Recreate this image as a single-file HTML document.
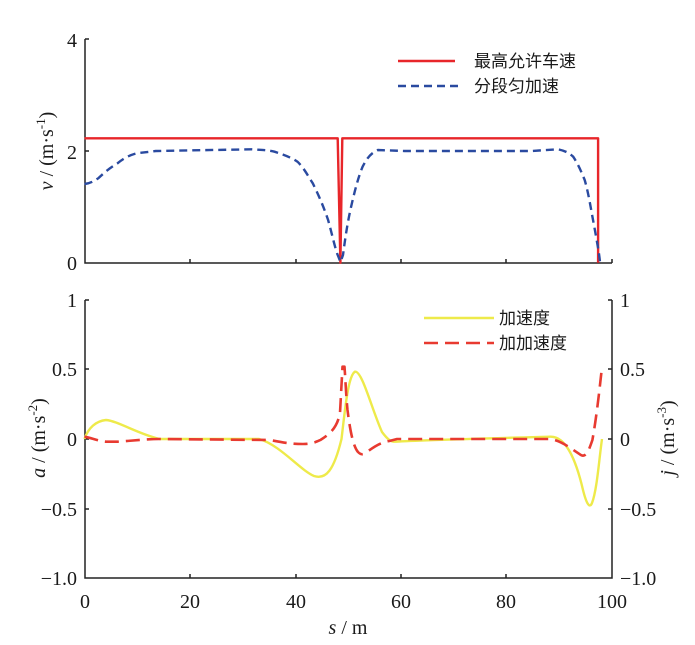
<!DOCTYPE html>
<html><head><meta charset="utf-8"><style>
body{margin:0;background:#fff}
text{font-family:"Liberation Serif","Noto Serif CJK SC",serif;font-size:20px;fill:#1a1a1a}
.cj{font-family:"Liberation Sans","Noto Sans CJK SC",sans-serif;font-size:17px}
</style></head><body>
<svg width="695" height="640" viewBox="0 0 695 640" xmlns="http://www.w3.org/2000/svg">
<g stroke="#222" stroke-width="1.5" fill="none">
<path d="M85,39 V263 H612"/>
<path d="M85,39 h4 M85,151 h4 M190,263 v-4 M296,263 v-4 M401,263 v-4 M506,263 v-4 M612,263 v-4"/>
<path d="M85,300 V578 H612 V300"/>
<path d="M85,300 h4 M85,369 h4 M85,439 h4 M85,509 h4 M612,300 h-4 M612,369 h-4 M612,439 h-4 M612,509 h-4 M190,578 v-4 M296,578 v-4 M401,578 v-4 M506,578 v-4"/>
</g>
<g text-anchor="end">
<text x="77" y="47">4</text><text x="77" y="159">2</text><text x="77" y="270">0</text>
<text x="77" y="307">1</text><text x="77" y="376">0.5</text><text x="77" y="446">0</text><text x="77" y="516">−0.5</text><text x="77" y="585">−1.0</text>
</g>
<g text-anchor="start">
<text x="620" y="307">1</text><text x="620" y="376">0.5</text><text x="620" y="446">0</text><text x="620" y="516">−0.5</text><text x="620" y="585">−1.0</text>
</g>
<g text-anchor="middle">
<text x="85" y="608">0</text><text x="190" y="608">20</text><text x="296" y="608">40</text><text x="401" y="608">60</text><text x="506" y="608">80</text><text x="612" y="608">100</text>
<text x="348" y="634"><tspan font-style="italic">s</tspan> / m</text>
<text transform="translate(53,151) rotate(-90)"><tspan font-style="italic">v</tspan> / (m·s<tspan font-size="13" dy="-8">-1</tspan><tspan dy="8">)</tspan></text>
<text transform="translate(45,438) rotate(-90)"><tspan font-style="italic">a</tspan> / (m·s<tspan font-size="13" dy="-8">-2</tspan><tspan dy="8">)</tspan></text>
<text transform="translate(674,438) rotate(-90)"><tspan font-style="italic">j</tspan> / (m·s<tspan font-size="13" dy="-8">-3</tspan><tspan dy="8">)</tspan></text>
</g>
<g fill="none" stroke-linejoin="round" stroke-linecap="butt">
<path stroke="#e8262a" stroke-width="2.4" d="M84.5,138.3 L337.7,138.3 L340.4,262.7 L342.3,138.3 L598.1,138.3 L598.1,262.7"/>
<path stroke="#2a4aa0" stroke-width="2.4" stroke-dasharray="8,5" d="M84.5,184 C92,183 95,180 98.3,178.3 C106,171 110,168 117.5,163.3 C124,158 130,155 136.6,153.3 L155.8,151 L251.5,149.3 C262,150 268,150 274.5,151.7 C285,155 292,158 297.5,161.7 C304,168 308,176 312.8,183.3 C320,198 324,208 328.1,220 C332,234 335,248 337.7,255 L340.5,262 L343,255 C345,240 347,225 351.1,206.7 C355,190 358,178 362.6,166.7 C367,158 371,153 377.9,150 L404.7,151 L531.1,151 L557.9,149.3 C566,151 569,153 573.2,156.7 C578,164 581,171 584.7,180 C589,195 591,210 594.3,226.7 C597,242 599,252 600,262"/>
<path stroke="#eeea4a" stroke-width="2.4" d="M84.5,439 C88,428 96,421 106,420 C118,421 138,434 159.6,439 L259.2,439 C280,445 300,470 314,476 C326,480 334,470 341.5,439 C345,410 348,376 354.9,371.7 C362,370 372,410 382,432 C388,440 391,442 396,441.7 C420,440 500,438 550.2,436.7 C566,436 576,460 583,490 C587,506 590,508 592,503 C597,490 599,460 602,439"/>
<path stroke="#e83a30" stroke-width="2.6" stroke-dasharray="14,7" d="M84.5,436.7 C92,438 98,441 106,441.7 L117.5,441.7 C130,441 145,439 159.6,439 L270,440 C285,443 292,444 303,444 C312,444 316,442 320.4,440 C330,434 337,428 340,413 L342.5,366.7 L344.5,366.7 C345.5,380 346,395 347.5,410 C350,430 353,446 358,452 C361,455 363,455 367,452 C375,446 382,442 389.4,441 L397,439 L550.2,439 C562,441 570,448 580.9,455 C586,458 589,450 592.4,440 C596,420 599,395 602,366.7"/>
<line x1="398" y1="61" x2="455" y2="61" stroke="#e8262a" stroke-width="2.4"/>
<line x1="398" y1="86" x2="458" y2="86" stroke="#2a4aa0" stroke-width="2.4" stroke-dasharray="8,5"/>
<line x1="424" y1="318" x2="494" y2="318" stroke="#eeea4a" stroke-width="2.4"/>
<line x1="424" y1="343" x2="494" y2="343" stroke="#e83a30" stroke-width="2.6" stroke-dasharray="14,7"/>
</g>
<text class="cj" x="474" y="67">最高允许车速</text>
<text class="cj" x="474" y="92">分段匀加速</text>
<text class="cj" x="499" y="324">加速度</text>
<text class="cj" x="499" y="349">加加速度</text>
</svg>
</body></html>
